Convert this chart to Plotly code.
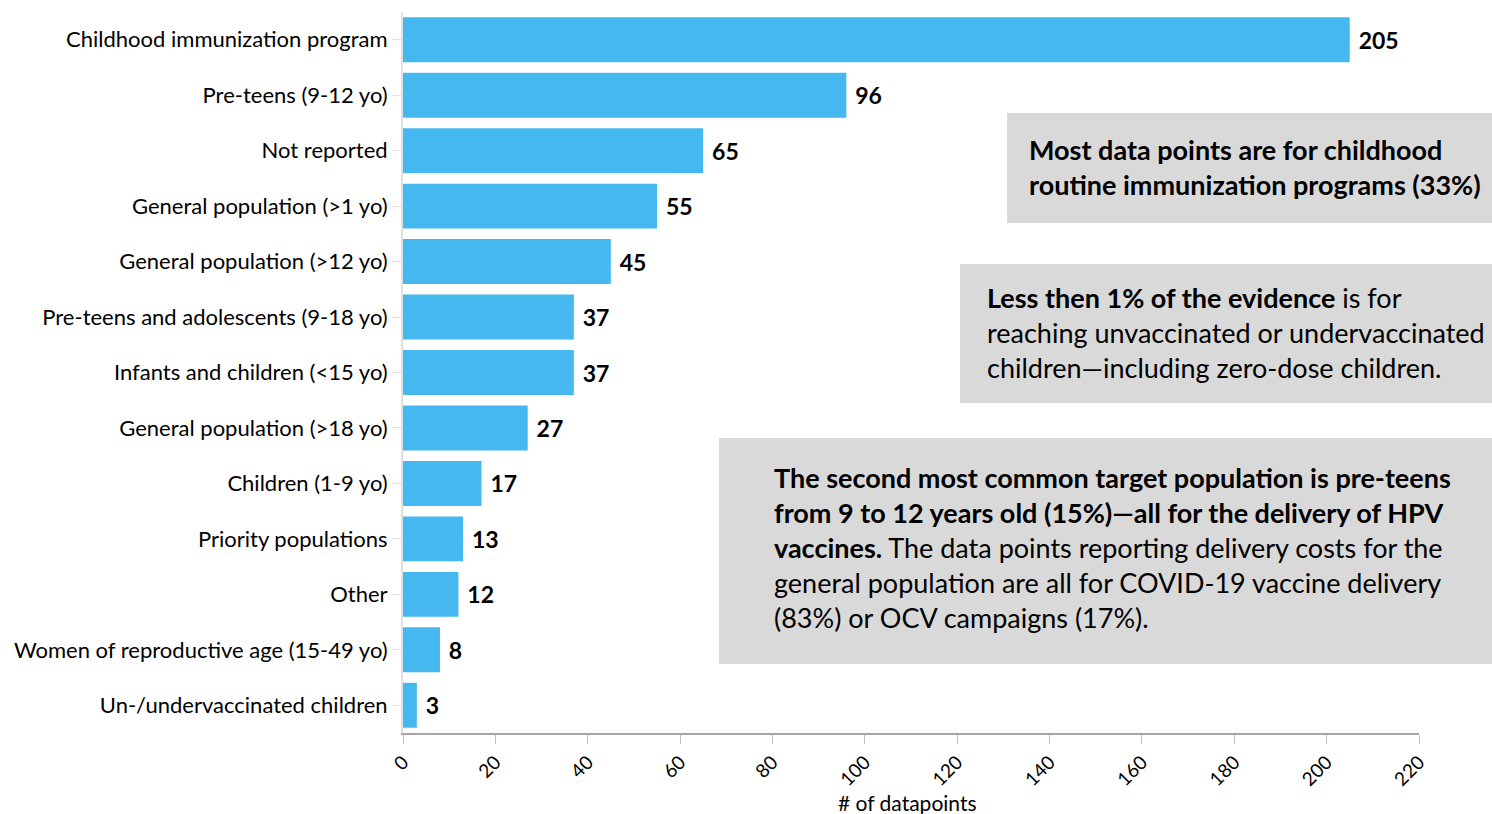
import plotly.graph_objects as go

categories = [
    "Childhood immunization program",
    "Pre-teens (9-12 yo)",
    "Not reported",
    "General population (>1 yo)",
    "General population (>12 yo)",
    "Pre-teens and adolescents (9-18 yo)",
    "Infants and children (<15 yo)",
    "General population (>18 yo)",
    "Children (1-9 yo)",
    "Priority populations",
    "Other",
    "Women of reproductive age (15-49 yo)",
    "Un-/undervaccinated children",
]
datapoints = [205, 96, 65, 55, 45, 37, 37, 27, 17, 13, 12, 8, 3]
x_ticks = list(range(0, 221, 20))
x_title = "# of datapoints"

W, H = 1492, 814
ML, MR, MT, MB = 403, 73, 12, 81
FONT = "Lato, Open Sans, sans-serif"


def px_x(p):
    return (p - ML) / (W - ML - MR)


def px_y(p):
    return 1 - (p - MT) / (H - MT - MB)


fig = go.Figure(
    go.Bar(
        x=datapoints,
        y=categories,
        orientation="h",
        marker=dict(color="#45b8f0", line=dict(width=0)),
        text=[f"\u00a0<b>{v}</b>" for v in datapoints],
        textposition="outside",
        textfont=dict(size=23, color="#000000", family=FONT),
        cliponaxis=False,
    )
)

fig.update_layout(
    width=W,
    height=H,
    margin=dict(l=ML, r=MR, t=MT, b=MB, autoexpand=False),
    paper_bgcolor="white",
    plot_bgcolor="white",
    bargap=0.19,
    showlegend=False,
    font=dict(family=FONT, color="#000000"),
    xaxis=dict(
        range=[0, 220],
        tickvals=x_ticks,
        tickangle=-45,
        tickfont=dict(size=19),
        automargin=False,
        showgrid=False,
        zeroline=False,
        showline=True,
        linecolor="#a6a6a6",
        linewidth=1.5,
        ticks="outside",
        ticklen=9,
        tickcolor="#bfbfbf",
    ),
    yaxis=dict(
        autorange="reversed",
        tickfont=dict(size=22),
        automargin=False,
        showgrid=False,
        zeroline=False,
        showline=True,
        linecolor="#e0e0e0",
        linewidth=2,
        ticks="outside",
        ticklen=9,
        tickcolor="#e0e0e0",
    ),
)

# x-axis title placed below the rotated tick labels
fig.add_annotation(
    xref="paper", yref="paper", x=px_x(907), y=px_y(802),
    xanchor="center", yanchor="middle", showarrow=False,
    text=x_title, font=dict(size=21, color="#000000", family=FONT),
)

boxes = [
    (1007, 113, 1492, 223),
    (960, 264, 1492, 403),
    (719, 438, 1492, 664),
]
for x0, y0, x1, y1 in boxes:
    fig.add_shape(
        type="rect", xref="paper", yref="paper",
        x0=px_x(x0), x1=px_x(x1), y0=px_y(y1), y1=px_y(y0),
        fillcolor="#d9d9d9", line=dict(width=0), layer="below",
    )

notes = [
    (1027, 131, "<b>Most data points are for childhood<br>routine immunization programs (33%)</b>", 27),
    (985, 279, "<b>Less then 1% of the evidence</b> is for<br>reaching unvaccinated or undervaccinated<br>children\u2014including zero-dose children.", 27),
    (772, 459, "<b>The second most common target population is pre-teens<br>from 9 to 12 years old (15%)\u2014all for the delivery of HPV<br>vaccines.</b> The data points reporting delivery costs for the<br>general population are all for COVID-19 vaccine delivery<br>(83%) or OCV campaigns (17%).", 27),
]
for x, y, txt, size in notes:
    fig.add_annotation(
        xref="paper", yref="paper", x=px_x(x), y=px_y(y),
        xanchor="left", yanchor="top", align="left", showarrow=False,
        text=txt, font=dict(size=size, color="#000000", family=FONT),
    )

fig.write_html("out.html")
